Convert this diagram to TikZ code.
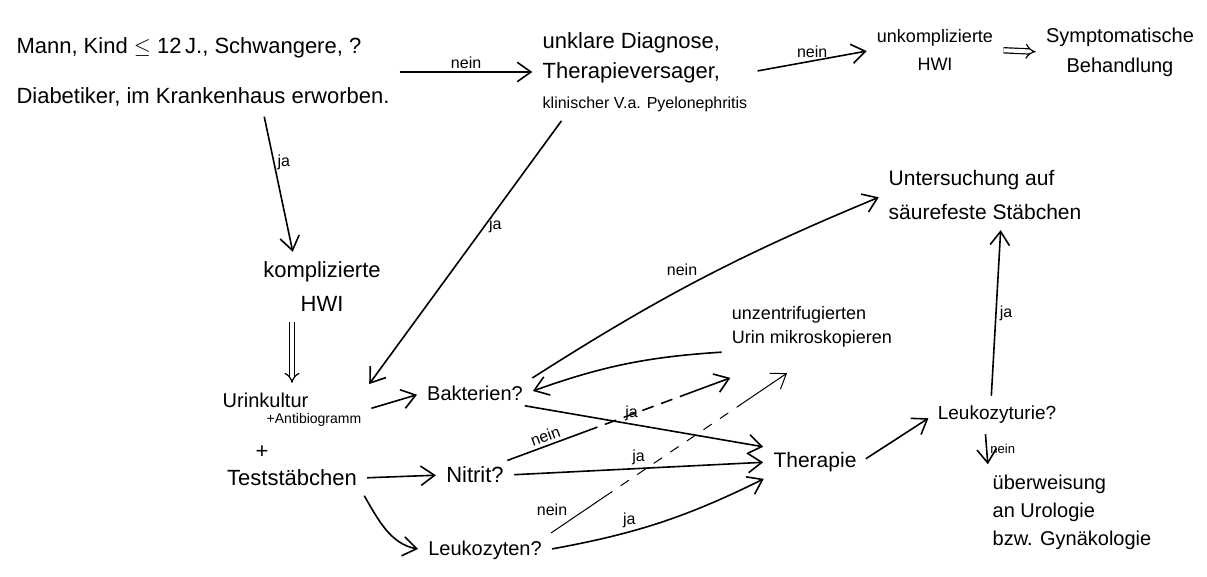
\documentclass[tikz,border=0pt]{standalone}
\usepackage{fontspec}
\setmainfont{Liberation Sans}
\usetikzlibrary{arrows.meta}

\begin{document}
\begin{tikzpicture}[
  x=0.5pt, y=-0.5pt,
  every node/.style={inner sep=2pt},
  hw/.style={font=\fontsize{11}{16}\selectfont, align=center},
  note/.style={font=\fontsize{8}{9}\selectfont, inner sep=1.5pt},
  flow/.style={->, line width=0.8pt, shorten <=3pt, shorten >=3pt},
  thin flow/.style={flow, line width=0.5pt},
  imp/.style={double, double distance=2pt, line width=0.6pt, -{Implies}, shorten <=3pt, shorten >=3pt},
  >={Straight Barb[length=2.4mm, width=3.4mm]},
]
\useasboundingbox (0,0) rectangle (1207,577);

% top row
\node[hw, align=left, font=\fontsize{11}{25}\selectfont] (mann) at (203,72) {Mann, Kind $\le$ 12\,J., Schwangere, ?\\Diabetiker, im Krankenhaus erworben.};
\node[hw, align=left, font=\fontsize{11}{15}\selectfont] (unklar) at (645,72) {unklare Diagnose,\\Therapieversager,\\{\fontsize{8}{15}\selectfont klinischer V.a. Pyelonephritis}};
\node[hw, font=\fontsize{9}{14}\selectfont] (unkompl) at (935,50) {unkomplizierte\\HWI};
\node[hw, font=\fontsize{10}{15}\selectfont] (sympt) at (1120,52) {Symptomatische\\Behandlung};

% left column
\node[hw, font=\fontsize{11}{17}\selectfont] (kompl) at (322,287) {komplizierte\\HWI};
\node[hw, align=left, font=\fontsize{10}{8}\selectfont] (urin) at (292,410) {Urinkultur\\\hspace*{22pt}{\fontsize{7}{8}\selectfont +Antibiogramm}};
\node[hw] (plus) at (262,452) {+};
\node[hw] (test) at (292,478) {Teststäbchen};

% tests
\node[hw, font=\fontsize{10}{12}\selectfont] (bakt) at (475,393) {Bakterien?};
\node[hw] (nitrit) at (475,475) {Nitrit?};
\node[hw, font=\fontsize{10}{12}\selectfont] (leuko) at (485,550) {Leukozyten?};

% right part
\node[hw, align=left, font=\fontsize{9}{12}\selectfont] (unzentr) at (812,327) {unzentrifugierten\\Urin mikroskopieren};
\node[hw, font=\fontsize{10.5}{12}\selectfont] (ther) at (815,462) {Therapie};
\node[hw, align=left, font=\fontsize{10.5}{17}\selectfont] (unters) at (985,195) {Untersuchung auf\\säurefeste Stäbchen};
\node[hw, font=\fontsize{9.5}{12}\selectfont] (leukoz) at (997,415) {Leukozyturie?};
\node[hw, align=left, font=\fontsize{10}{14}\selectfont] (ueber) at (1072,512) {überweisung\\an Urologie\\bzw. Gynäkologie};

% connectors
\draw[flow] (mann.east) -- node[note, above] {nein} (unklar.west);
\draw[flow] (unklar.east) -- node[note, above] {nein} (unkompl.west);
\draw[imp] (unkompl.east) -- (sympt.west);
\draw[flow] ([xshift=30pt]mann.south) -- node[note, right, pos=.35] {ja} ([xshift=-14pt]kompl.north);
\draw[imp] (urin.north |- kompl.south) -- (urin.north);
\draw[flow] ([xshift=-40pt]unklar.south) -- node[note, right, pos=.4] {ja} (urin.north east);
\draw[flow] (urin.east) -- (bakt.west);
\draw[flow] (test.east) -- (nitrit.west);
\draw[flow] (test.south east) to[out=-60, in=170] (leuko.west);
\draw[flow] (bakt.north east) to[bend left=5] node[note, above left, pos=.5] {nein} (unters.west);
\draw[flow] (unzentr.south west) to[bend right=8] (bakt.east);
\draw[flow] (bakt.-15) -- node[note, above, pos=.45] {ja} (ther.north west);
\draw[flow, dash pattern=on 48pt off 4pt on 6pt off 4pt on 6pt off 4pt on 6pt off 4pt on 6pt off 4pt on 60pt]
  (nitrit.25) -- node[note, above, sloped, pos=.2] {nein} ([xshift=-38pt, yshift=-12pt]unzentr.south);
\draw[flow] (nitrit.east) -- node[note, above] {ja} (ther.west);
\draw[thin flow, dash pattern=on 37pt off 5pt on 5pt off 5pt on 5pt off 5pt on 5pt off 5pt on 5pt off 5pt on 5pt off 5pt on 5pt off 5pt on 5pt off 5pt on 60pt]
  (leuko.north east) -- node[note, above left, pos=.1] {nein} ([xshift=-10pt, yshift=-9pt]unzentr.south);
\draw[flow] (leuko.east) to[bend right=8] node[note, above, pos=.35] {ja} (ther.south west);
\draw[flow] (ther.east) -- (leukoz.west);
\draw[flow] ([xshift=-3pt]leukoz.north) -- node[note, right] {ja} ([xshift=8pt]unters.south);
\draw[flow] ([xshift=-6pt]leukoz.south) -- node[note, right, font=\fontsize{6.5}{7}\selectfont] {nein} (ueber.north west);
\end{tikzpicture}
\end{document}
